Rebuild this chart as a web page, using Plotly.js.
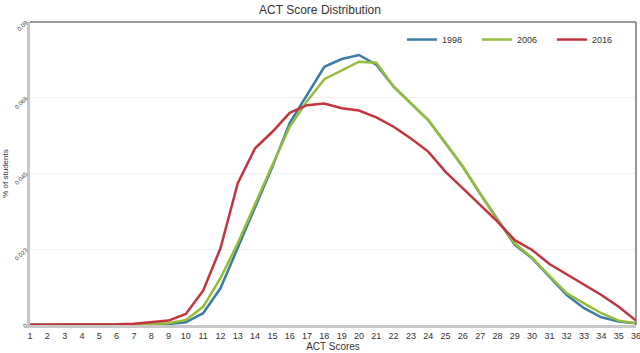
<!DOCTYPE html>
<html>
<head>
<meta charset="utf-8">
<script src="https://cdn.plot.ly/plotly-3.0.1.min.js"></script>
<style>html,body{margin:0;padding:0;background:#fff;}#chart{width:640px;height:353px;}</style>
</head>
<body>
<div id="chart"></div>
<script>
const scores = [1,2,3,4,5,6,7,8,9,10,11,12,13,14,15,16,17,18,19,20,21,22,23,24,25,26,27,28,29,30,31,32,33,34,35,36];
const v1998 = [0.0001,0.0001,0.0001,0.0001,0.0001,0.0001,0.0001,0.0002,0.0003,0.0008,0.0035,0.0109,0.0228,0.0351,0.0470,0.0600,0.0685,0.0767,0.0790,0.0802,0.0773,0.0708,0.0658,0.0609,0.0540,0.0470,0.0390,0.0312,0.0238,0.0198,0.0144,0.0089,0.0050,0.0023,0.0010,0.0005];
const v2006 = [0.0001,0.0001,0.0001,0.0001,0.0001,0.0001,0.0002,0.0003,0.0005,0.0015,0.0054,0.0139,0.0243,0.0361,0.0475,0.0589,0.0665,0.0730,0.0757,0.0782,0.0779,0.0708,0.0658,0.0609,0.0540,0.0470,0.0390,0.0312,0.0242,0.0200,0.0146,0.0094,0.0064,0.0035,0.0013,0.0005];
const v2016 = [0.0001,0.0001,0.0001,0.0001,0.0001,0.0002,0.0004,0.0008,0.0013,0.0033,0.0102,0.0228,0.0421,0.0525,0.0574,0.0630,0.0653,0.0658,0.0644,0.0637,0.0617,0.0589,0.0554,0.0515,0.0455,0.0406,0.0356,0.0307,0.0252,0.0223,0.0181,0.0151,0.0121,0.0089,0.0054,0.0013];
const seriesNames = ['1998','2006','2016'];
const yTickVals = [0,0.0225,0.045,0.0675,0.09];
const yTickText = ['0','0.023','0.045','0.068','0.09'];
const colors = ['#3b7ca3','#95bd3a','#c3343f'];

const traces = [v1998, v2006, v2016].map((v,i) => ({
  x: scores, y: v, type: 'scatter', mode: 'lines', name: seriesNames[i],
  line: {color: colors[i], width: 2.5}
}));

const layout = {
  width: 640, height: 353,
  margin: {l: 30, r: 4, t: 22, b: 28},
  paper_bgcolor: '#fff', plot_bgcolor: '#fff',
  font: {family: 'Liberation Sans, Arial, sans-serif', color: '#333'},
  title: {text: 'ACT Score Distribution', font: {size: 12, color: '#333'}, x: 0.5, y: 0.985, yanchor: 'top'},
  xaxis: {
    range: [1, 36], tickvals: scores, ticks: '', showgrid: false, zeroline: false,
    showline: true, linecolor: '#c8c8c8', linewidth: 3, ticklabeloverflow: 'allow',
    tickfont: {size: 9, color: '#333'},
    title: {text: 'ACT Scores', font: {size: 10, color: '#333'}, standoff: 4}
  },
  yaxis: {
    range: [0, 0.09], tickvals: yTickVals, ticktext: yTickText, tickangle: -45,
    ticks: '', showgrid: true, gridcolor: '#f0f0f0', zeroline: false,
    showline: true, linecolor: '#c8c8c8', linewidth: 3, ticklabeloverflow: 'allow',
    tickfont: {size: 6, color: '#444'},
    title: {text: '% of students', font: {size: 8, color: '#333'}, standoff: 4}
  },
  legend: {orientation: 'h', x: 0.985, xanchor: 'right', y: 0.99, yanchor: 'top',
    font: {size: 9, color: '#333'}, bgcolor: 'rgba(0,0,0,0)', itemwidth: 30,
    entrywidth: 30, entrywidthmode: 'pixels'},
  showlegend: true,
  shapes: [
    {type: 'line', xref: 'paper', yref: 'paper', x0: 0, x1: 1, y0: 1, y1: 1, line: {color: '#777', width: 1.5}},
    {type: 'line', xref: 'paper', yref: 'paper', x0: 1, x1: 1, y0: 0, y1: 1, line: {color: '#777', width: 1.5}}
  ]
};

Plotly.newPlot('chart', traces, layout, {displayModeBar: false, staticPlot: true});
</script>
</body>
</html>
